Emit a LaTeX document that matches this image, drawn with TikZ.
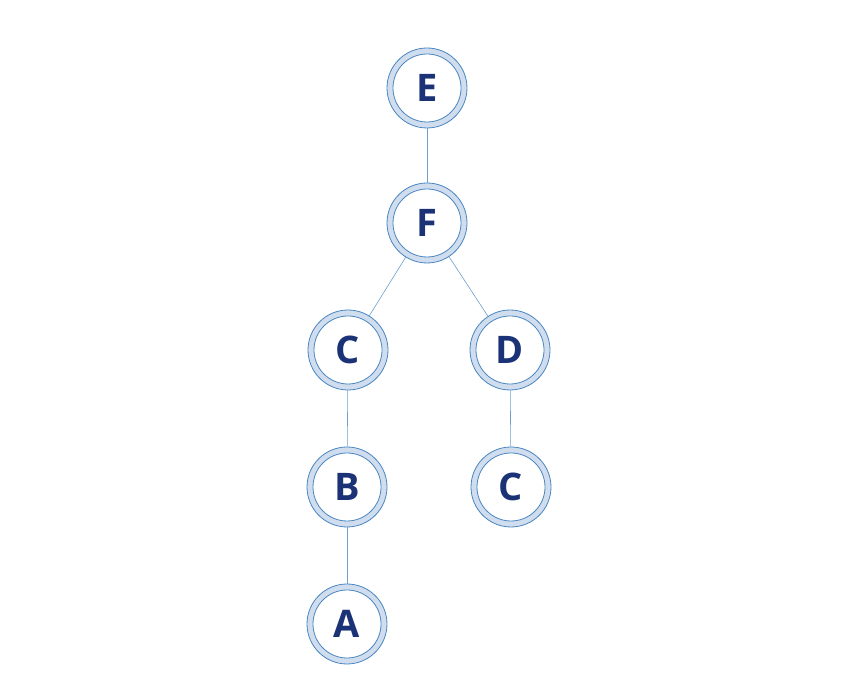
\documentclass[tikz,border=0pt]{standalone}
\usepackage{fontspec}
\setmainfont{Open Sans}
\definecolor{ringfill}{HTML}{CFDDEE}
\definecolor{ringline}{HTML}{4A86C0}
\definecolor{txt}{HTML}{1B3277}
\begin{document}
\begin{tikzpicture}[x=1pt,y=1pt,
  tnode/.style={circle,draw=ringline,line width=0.8pt,fill=ringfill,minimum size=80pt,inner sep=0pt,
    path picture={\fill[white] (path picture bounding box.center) circle (34pt);
                  \draw[ringline,line width=0.8pt] (path picture bounding box.center) circle (34pt);},
    font=\fontsize{38}{40}\selectfont\bfseries, text=txt},
  edge/.style={draw=ringline!80,line width=0.6pt}]
\useasboundingbox (0,0) rectangle (860,700);
\node[tnode] (E) at (427,612) {E};
\node[tnode] (F) at (427,477) {F};
\node[tnode] (C1) at (348,350) {C};
\node[tnode] (D) at (510,350) {D};
\node[tnode] (B) at (347,213) {B};
\node[tnode] (C2) at (511,213) {C};
\node[tnode] (A) at (347,76) {A};
\draw[edge] (E) -- (F);
\draw[edge] (F) -- (C1);
\draw[edge] (F) -- (D);
\draw[edge] (C1) -- (B);
\draw[edge] (D) -- (C2);
\draw[edge] (B) -- (A);
\end{tikzpicture}
\end{document}
